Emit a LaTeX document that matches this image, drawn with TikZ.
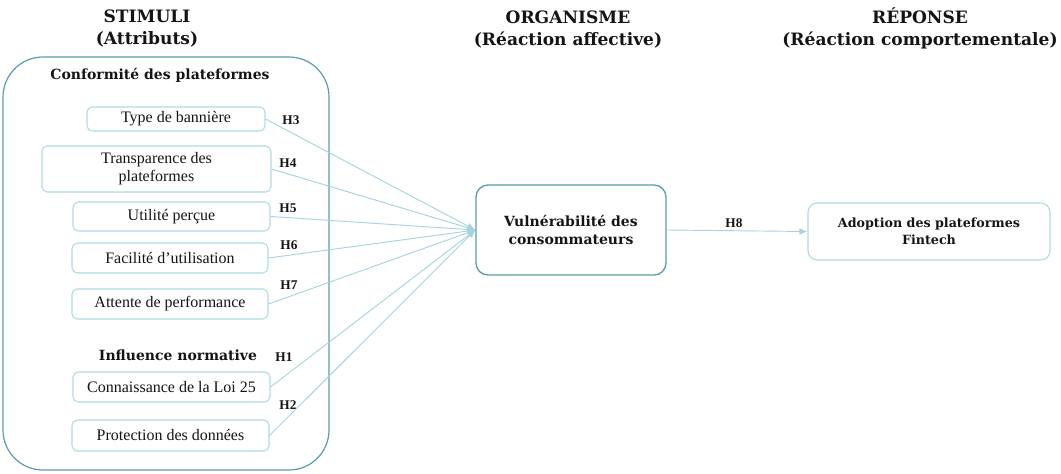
\documentclass[tikz,border=0pt]{standalone}
\usepackage{fontspec}
\setmainfont{Liberation Serif}
\newfontfamily\headfont{DejaVu Serif}
\usetikzlibrary{arrows.meta,positioning}
\definecolor{tealdark}{RGB}{88,156,170}
\definecolor{teallight}{RGB}{176,218,226}
\definecolor{tealline}{RGB}{164,212,222}
\definecolor{inkgrey}{RGB}{20,20,20}

\begin{document}
\begin{tikzpicture}[x=0.75pt,y=-0.75pt,
    attr/.style={draw=teallight,line width=0.8pt,rounded corners=4pt,inner sep=0pt,
        align=center,text=inkgrey,font=\fontsize{12}{13.5}\selectfont},
    title/.style={align=center,text=inkgrey,font=\headfont\bfseries\fontsize{12.8}{16.5}\selectfont},
    group/.style={text=inkgrey,font=\headfont\bfseries\fontsize{10.5}{12}\selectfont},
    hyp/.style={text=inkgrey,font=\bfseries\fontsize{10}{11}\selectfont,inner sep=1pt},
    link/.style={draw=tealline,line width=0.7pt,-{Latex[length=6pt,width=5pt]}}]
    \useasboundingbox (0,0) rectangle (1061,474);

    % column titles
    \node[title] (stim) at (147,28) {STIMULI\\(Attributs)};
    \node[title] (orga) at (568,29) {ORGANISME\\(Réaction affective)};
    \node[title] (repo) at (920,28) {RÉPONSE\\(Réaction comportementale)};

    % stimuli frame
    \node[draw=tealdark,line width=0.9pt,rounded corners=30pt,inner sep=0pt,
        minimum width=326*0.75pt,minimum height=413*0.75pt] (frame) at (166,263.5) {};
    \node[group] (conf) at (160,75) {Conformité des plateformes};
    \node[group] (norm) at (178,355) {Influence normative};

    % attributes
    \node[attr,minimum width=178*0.75pt,minimum height=24*0.75pt] (ban)   at (176,119)   {Type de bannière};
    \node[attr,minimum width=229*0.75pt,minimum height=46*0.75pt] (trans) at (156.5,169) {Transparence des\\plateformes};
    \node[attr,minimum width=197*0.75pt,minimum height=29*0.75pt] (util)  at (171.5,216.5) {Utilité perçue};
    \node[attr,minimum width=196*0.75pt,minimum height=30*0.75pt] (faci)  at (170,258)   {Facilité d’utilisation};
    \node[attr,minimum width=196*0.75pt,minimum height=30*0.75pt] (perf)  at (170,304)   {Attente de performance};
    \node[attr,minimum width=197*0.75pt,minimum height=30*0.75pt] (loi)   at (171.5,387) {Connaissance de la Loi 25};
    \node[attr,minimum width=197*0.75pt,minimum height=31*0.75pt] (prot)  at (170.5,435.5) {Protection des données};

    % organisme and reponse
    \node[draw=tealdark,line width=1pt,rounded corners=9pt,inner sep=0pt,align=center,
        minimum width=190*0.75pt,minimum height=90*0.75pt,
        text=inkgrey,font=\headfont\bfseries\fontsize{10.5}{14}\selectfont] (vuln) at (571,230)
        {Vulnérabilité des\\consommateurs};
    \node[draw=teallight,line width=0.8pt,rounded corners=7pt,inner sep=0pt,align=center,
        minimum width=242*0.75pt,minimum height=57*0.75pt,
        text=inkgrey,font=\headfont\bfseries\fontsize{9.5}{12.5}\selectfont] (adop) at (929,231.5)
        {Adoption des plateformes\\Fintech};

    % hypotheses
    \node[hyp] (h3) at (291,120) {H3};
    \node[hyp] (h4) at (288,163) {H4};
    \node[hyp] (h5) at (288,208) {H5};
    \node[hyp] (h6) at (289,245) {H6};
    \node[hyp] (h7) at (289,285) {H7};
    \node[hyp] (h1) at (284,357) {H1};
    \node[hyp] (h2) at (288,405) {H2};
    \node[hyp] (h8) at (734,223) {H8};

    \foreach \src in {ban,trans,util,faci,perf,loi,prot}
        \draw[link] (\src.east) -- (vuln.west);
    \draw[link] (vuln.east) -- (adop.west);
\end{tikzpicture}
\end{document}
